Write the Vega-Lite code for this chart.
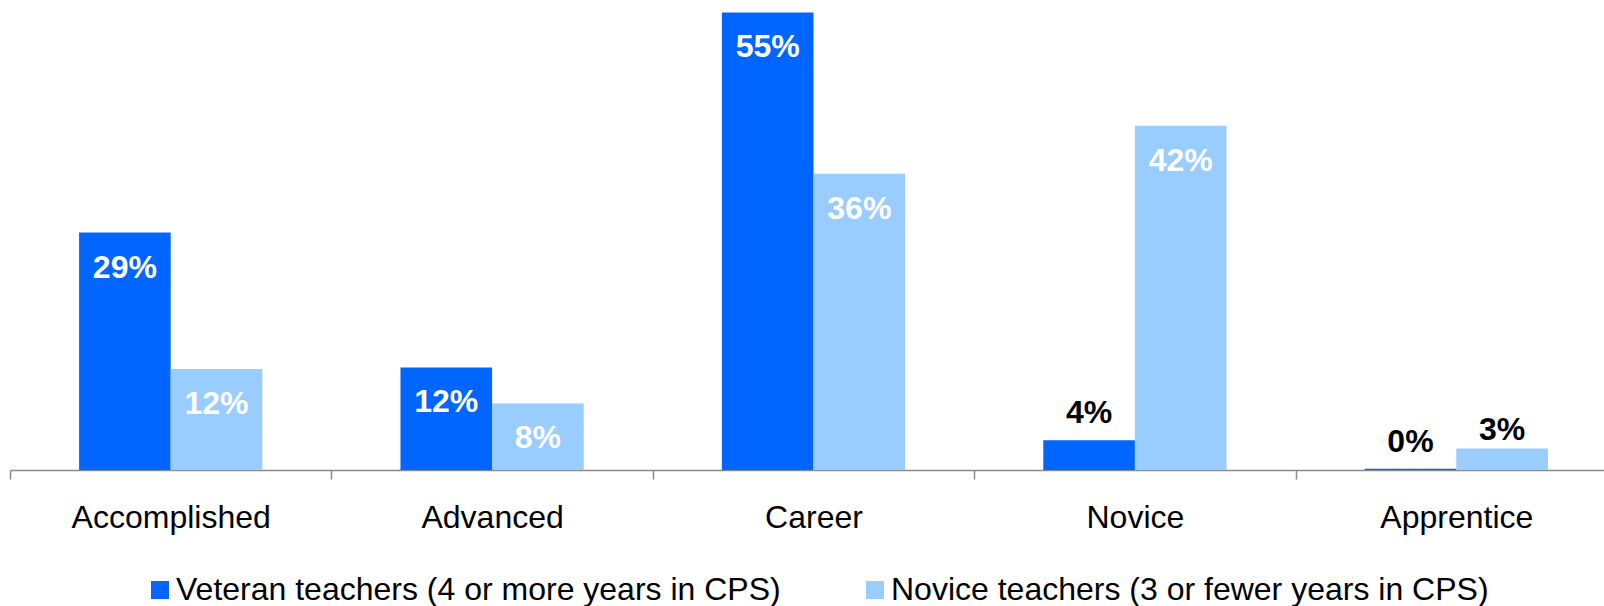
{
  "$schema": "https://vega.github.io/schema/vega-lite/v6.json",
  "autosize": {"type": "none"},
  "width": 1594,
  "height": 470,
  "padding": {"left": 10, "top": 0, "right": 0, "bottom": 136},
  "background": "white",
  "config": {
    "view": {"stroke": null},
    "font": "Liberation Sans"
  },
  "data": {
    "values": [
      {"level": "Accomplished", "group": "Veteran teachers (4 or more years in CPS)", "value": 0.287},
      {"level": "Accomplished", "group": "Novice teachers (3 or fewer years in CPS)", "value": 0.122},
      {"level": "Advanced", "group": "Veteran teachers (4 or more years in CPS)", "value": 0.124},
      {"level": "Advanced", "group": "Novice teachers (3 or fewer years in CPS)", "value": 0.0805},
      {"level": "Career", "group": "Veteran teachers (4 or more years in CPS)", "value": 0.553},
      {"level": "Career", "group": "Novice teachers (3 or fewer years in CPS)", "value": 0.358},
      {"level": "Novice", "group": "Veteran teachers (4 or more years in CPS)", "value": 0.036},
      {"level": "Novice", "group": "Novice teachers (3 or fewer years in CPS)", "value": 0.416},
      {"level": "Apprentice", "group": "Veteran teachers (4 or more years in CPS)", "value": 0.0015},
      {"level": "Apprentice", "group": "Novice teachers (3 or fewer years in CPS)", "value": 0.026}
    ]
  },
  "encoding": {
    "x": {
      "field": "level",
      "type": "nominal",
      "sort": ["Accomplished", "Advanced", "Career", "Novice", "Apprentice"],
      "scale": {"range": [0, 1607], "paddingInner": 0, "paddingOuter": 0},
      "axis": {
        "title": null,
        "labelAngle": 0,
        "labelFont": "Liberation Sans",
        "labelFontSize": 32,
        "labelColor": "#000000",
        "labelPadding": 38,
        "labelBaseline": "middle",
        "labelLimit": 400,
        "domainColor": "#8a8a8a",
        "domainWidth": 1.5,
        "tickColor": "#8a8a8a",
        "tickWidth": 1.5,
        "tickSize": 9,
        "tickBand": "extent",
        "grid": false
      }
    },
    "xOffset": {
      "field": "group",
      "type": "nominal",
      "sort": ["Veteran teachers (4 or more years in CPS)", "Novice teachers (3 or fewer years in CPS)"],
      "scale": {"paddingInner": 0, "paddingOuter": 0.754}
    },
    "y": {
      "field": "value",
      "type": "quantitative",
      "scale": {"domain": [0, 0.568], "nice": false, "zero": true},
      "axis": null
    }
  },
  "layer": [
    {
      "mark": {"type": "bar"},
      "encoding": {
        "color": {
          "field": "group",
          "type": "nominal",
          "sort": ["Veteran teachers (4 or more years in CPS)", "Novice teachers (3 or fewer years in CPS)"],
          "scale": {
            "domain": ["Veteran teachers (4 or more years in CPS)", "Novice teachers (3 or fewer years in CPS)"],
            "range": ["#0066ff", "#99ccff"]
          },
          "legend": {
            "title": null,
            "orient": "none",
            "legendX": 134,
            "legendY": 574,
            "direction": "horizontal",
            "columns": 2,
            "columnPadding": 78,
            "symbolType": "square",
            "symbolSize": 324,
            "symbolStrokeWidth": 0,
            "symbolOpacity": 1,
            "labelFont": "Liberation Sans",
            "labelFontSize": 32,
            "labelColor": "#000000",
            "labelOffset": 0,
            "labelLimit": 800
          }
        }
      }
    },
    {
      "transform": [{"filter": "datum.value >= 0.05"}],
      "mark": {"type": "text", "color": "#ffffff", "font": "Liberation Sans", "fontWeight": "bold", "fontSize": 32, "baseline": "middle", "align": "center", "dy": 35},
      "encoding": {
        "text": {"field": "value", "type": "quantitative", "format": ".0%"}
      }
    },
    {
      "transform": [{"filter": "datum.value < 0.05 && datum.group == 'Veteran teachers (4 or more years in CPS)'"}],
      "mark": {"type": "text", "color": "#000000", "font": "Liberation Sans", "fontWeight": "bold", "fontSize": 32, "baseline": "middle", "align": "center", "dy": -27},
      "encoding": {
        "text": {"field": "value", "type": "quantitative", "format": ".0%"}
      }
    },
    {
      "transform": [{"filter": "datum.value < 0.05 && datum.group == 'Novice teachers (3 or fewer years in CPS)'"}],
      "mark": {"type": "text", "color": "#000000", "font": "Liberation Sans", "fontWeight": "bold", "fontSize": 32, "baseline": "middle", "align": "center", "dy": -18},
      "encoding": {
        "text": {"field": "value", "type": "quantitative", "format": ".0%"}
      }
    }
  ]
}
